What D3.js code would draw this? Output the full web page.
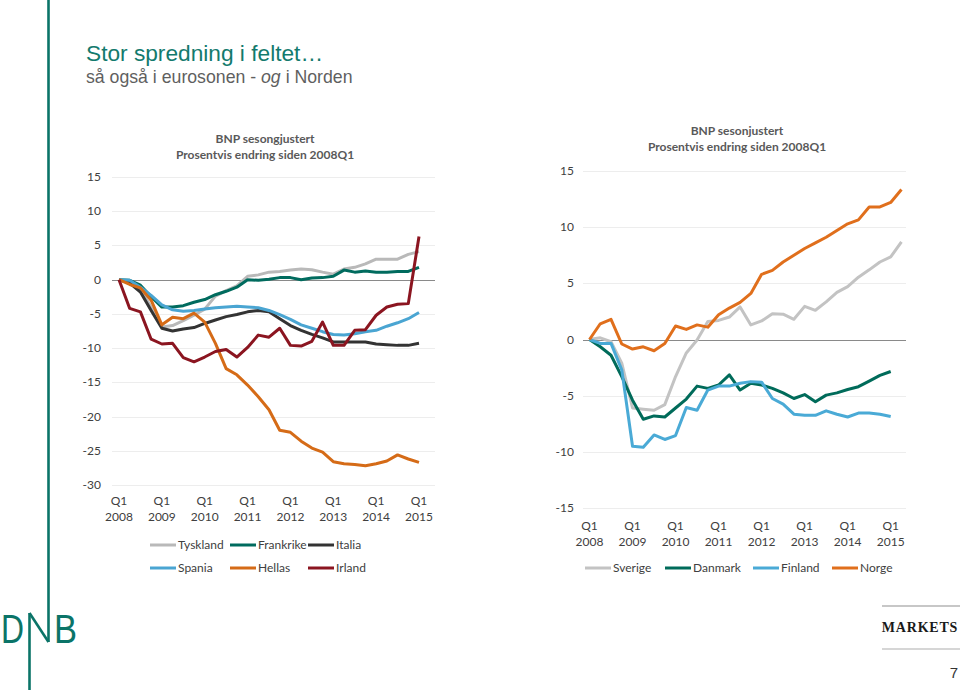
<!DOCTYPE html>
<html><head><meta charset="utf-8">
<script src="https://cdn.jsdelivr.net/npm/d3@7"></script>
<style>
html,body{margin:0;padding:0;background:#fff;}
svg{display:block;}
</style></head>
<body>
<svg id="c" width="960" height="690"></svg>
<script>
// ---------- DATA ----------
const xYears = ["2008","2009","2010","2011","2012","2013","2014","2015"];
const leftTicks = [15,10,5,0,-5,-10,-15,-20,-25,-30];
const rightTicks = [15,10,5,0,-5,-10,-15];

// Euro area (% change since 2008Q1), 2008Q1..2015Q1
const tyskland  = [0,-0.5,-1.4,-4.0,-6.9,-6.7,-6.0,-5.2,-4.3,-2.4,-1.6,-0.9,0.5,0.7,1.1,1.2,1.4,1.55,1.45,1.1,0.8,1.55,1.8,2.3,3.0,3.0,3.0,3.7,4.1];
const frankrike = [0,-0.1,-0.8,-2.5,-4.0,-4.0,-3.8,-3.3,-2.9,-2.2,-1.7,-1.1,0.0,-0.1,0.05,0.3,0.3,0.0,0.25,0.3,0.5,1.4,1.1,1.25,1.1,1.1,1.2,1.2,1.8];
const italia    = [0,-0.5,-1.8,-4.5,-7.1,-7.5,-7.2,-7.0,-6.4,-5.9,-5.4,-5.1,-4.7,-4.5,-4.7,-5.7,-6.7,-7.4,-8.0,-8.5,-9.1,-9.1,-9.1,-9.1,-9.4,-9.5,-9.6,-9.6,-9.3];
const spania    = [0,-0.1,-1.1,-2.3,-3.7,-4.4,-4.6,-4.5,-4.3,-4.1,-4.0,-3.9,-4.0,-4.1,-4.5,-5.1,-5.8,-6.6,-7.1,-7.6,-8.0,-8.1,-7.9,-7.6,-7.4,-6.8,-6.3,-5.7,-4.8];
const hellas    = [0,-0.7,-1.2,-3.0,-6.6,-5.5,-5.7,-4.9,-6.2,-9.3,-13.0,-13.9,-15.4,-17.1,-19.0,-22.0,-22.3,-23.6,-24.6,-25.2,-26.6,-26.9,-27.0,-27.2,-26.9,-26.5,-25.6,-26.2,-26.7];
const irland    = [0,-4.2,-4.7,-8.7,-9.4,-9.3,-11.4,-12.0,-11.3,-10.5,-10.2,-11.3,-9.9,-8.1,-8.4,-7.1,-9.6,-9.7,-9.0,-6.2,-9.6,-9.6,-7.4,-7.3,-5.2,-4.0,-3.6,-3.5,6.3];

// Nordic countries (% change since 2008Q1)
const sverige = [0,0.15,-0.2,-2.1,-6.1,-6.2,-6.3,-5.8,-3.3,-1.2,-0.05,1.6,1.7,2.0,2.9,1.3,1.65,2.3,2.25,1.8,2.95,2.6,3.35,4.2,4.7,5.55,6.2,6.9,7.35,8.7];
const danmark = [0,-0.65,-1.4,-3.3,-5.4,-7.1,-6.8,-6.9,-6.1,-5.3,-4.15,-4.35,-4.05,-3.15,-4.5,-3.9,-4.05,-4.35,-4.75,-5.25,-4.9,-5.55,-4.95,-4.75,-4.45,-4.2,-3.7,-3.2,-2.85];
const finland = [0,-0.35,-0.35,-2.7,-9.5,-9.6,-8.5,-8.9,-8.55,-6.05,-6.3,-4.5,-4.15,-4.15,-3.9,-3.75,-3.8,-5.25,-5.75,-6.65,-6.75,-6.75,-6.35,-6.65,-6.9,-6.55,-6.55,-6.65,-6.85];
const norge   = [0,1.4,1.8,-0.4,-0.85,-0.65,-1.0,-0.35,1.2,0.9,1.3,1.1,2.2,2.8,3.3,4.1,5.8,6.15,6.9,7.5,8.1,8.6,9.1,9.7,10.3,10.65,11.8,11.8,12.2,13.35];

const leftNames  = ["Tyskland","Frankrike","Italia","Spania","Hellas","Irland"];
const rightNames = ["Sverige","Danmark","Finland","Norge"];

// ---------- DRAW ----------
const svg = d3.select("#c");
const TEAL = "#0b7468";
const sansChart = "Lato, 'Open Sans', sans-serif";

// vertical brand line + DNB logo
svg.append("line").attr("x1",48.5).attr("x2",48.5).attr("y1",0).attr("y2",642).attr("stroke",TEAL).attr("stroke-width",2.6);
svg.append("line").attr("x1",29.5).attr("x2",29.5).attr("y1",613).attr("y2",690).attr("stroke",TEAL).attr("stroke-width",2.6);
svg.append("line").attr("x1",29.5).attr("x2",48.5).attr("y1",613).attr("y2",642).attr("stroke",TEAL).attr("stroke-width",2.6);
svg.append("text").attr("x",1).attr("y",643).attr("font-family","'Liberation Sans', Arial, sans-serif").attr("font-size",40).attr("fill",TEAL).attr("textLength",23).attr("lengthAdjust","spacingAndGlyphs").text("D");
svg.append("text").attr("x",54).attr("y",643).attr("font-family","'Liberation Sans', Arial, sans-serif").attr("font-size",40).attr("fill",TEAL).attr("textLength",23).attr("lengthAdjust","spacingAndGlyphs").text("B");

// Title
svg.append("text").attr("x",86).attr("y",61).attr("font-family","'Liberation Sans', Arial, sans-serif")
  .attr("font-size",22.7).attr("fill","#137a6d").text("Stor spredning i feltet…");
const sub = svg.append("text").attr("x",86).attr("y",83).attr("font-family","'Liberation Sans', Arial, sans-serif")
  .attr("font-size",17.7).attr("fill","#5f5f5f");
sub.append("tspan").text("så også i eurosonen - ");
sub.append("tspan").attr("font-style","italic").text("og");
sub.append("tspan").text(" i Norden");

// MARKETS block
svg.append("line").attr("x1",882).attr("x2",960).attr("y1",606).attr("y2",606).attr("stroke","#b5b5b5").attr("stroke-width",1.5);
svg.append("line").attr("x1",882).attr("x2",960).attr("y1",649).attr("y2",649).attr("stroke","#c8c8c8").attr("stroke-width",1.5);
svg.append("text").attr("x",920).attr("y",632).attr("text-anchor","middle").attr("font-family","'Liberation Serif', 'DejaVu Serif', serif")
  .attr("font-size",14).attr("font-weight","bold").attr("letter-spacing",0.8).attr("fill","#1a1a1a").text("MARKETS");
svg.append("text").attr("x",958).attr("y",678).attr("text-anchor","end").attr("font-family","'Liberation Sans', Arial, sans-serif")
  .attr("font-size",15).attr("fill","#333").text("7");

function chart(cfg){
  const g = svg.append("g");
  const x = d3.scaleLinear().domain([0,28]).range(cfg.xr);
  const y = d3.scaleLinear().domain(cfg.yd).range(cfg.yr);
  // titles
  cfg.titles.forEach((t,i)=>{
    g.append("text").attr("x",cfg.tx).attr("y",cfg.ty+i*16).attr("text-anchor","middle")
      .attr("font-family",sansChart).attr("font-weight","bold").attr("font-size",12).attr("fill","#595959").text(t);
  });
  // grid
  g.selectAll("line.grid").data(cfg.ticks).enter().append("line")
    .attr("x1",cfg.gx[0]).attr("x2",cfg.gx[1])
    .attr("y1",d=>Math.round(y(d))+0.5).attr("y2",d=>Math.round(y(d))+0.5)
    .attr("stroke",d=>d===0?"#8a8a8a":"#ededed").attr("stroke-width",1);
  // y labels
  g.selectAll("text.yl").data(cfg.ticks).enter().append("text")
    .attr("x",cfg.lx).attr("y",d=>y(d)+4).attr("text-anchor","end")
    .attr("font-family",sansChart).attr("font-size",12).attr("fill","#404040").text(d=>d);
  // x labels
  xYears.forEach((yr,i)=>{
    const xx = x(i*4);
    g.append("text").attr("x",xx).attr("y",cfg.xly).attr("text-anchor","middle")
      .attr("font-family",sansChart).attr("font-size",12).attr("fill","#404040").text("Q1");
    g.append("text").attr("x",xx).attr("y",cfg.xly+16).attr("text-anchor","middle")
      .attr("font-family",sansChart).attr("font-size",12).attr("fill","#404040").text(yr);
  });
  // lines
  const line = d3.line().x((d,i)=>x(i)).y(d=>y(d));
  cfg.series.forEach(s=>{
    g.append("path").attr("d",line(s.values)).attr("fill","none").attr("stroke",s.color)
      .attr("stroke-width",3).attr("stroke-linejoin","round");
  });
  // legend
  cfg.series.forEach(s=>{
    g.append("line").attr("x1",s.lg[0]).attr("x2",s.lg[0]+26).attr("y1",s.lg[1]).attr("y2",s.lg[1])
      .attr("stroke",s.color).attr("stroke-width",3);
    g.append("text").attr("x",s.lg[0]+28).attr("y",s.lg[1]+4).attr("font-family",sansChart)
      .attr("font-size",12).attr("fill","#404040").text(s.name);
  });
}

chart({
  xr:[119,419], yd:[-30,15], yr:[485,177], gx:[112,435], lx:101, xly:505,
  ticks:leftTicks, tx:265, ty:143,
  titles:["BNP sesongjustert","Prosentvis endring siden 2008Q1"],
  series:[
    {name:leftNames[0], values:tyskland,  color:"#b9b9b9", lg:[150,545]},
    {name:leftNames[1], values:frankrike, color:"#006b5e", lg:[230,545]},
    {name:leftNames[2], values:italia,    color:"#333333", lg:[308,545]},
    {name:leftNames[3], values:spania,    color:"#4aa5d2", lg:[150,568]},
    {name:leftNames[4], values:hellas,    color:"#d56b17", lg:[230,568]},
    {name:leftNames[5], values:irland,    color:"#8b1520", lg:[308,568]}
  ]
});

chart({
  xr:[589.5,890.7], yd:[-15,15], yr:[508,171], gx:[583,906], lx:574, xly:530,
  ticks:rightTicks, tx:737, ty:135,
  titles:["BNP sesonjustert","Prosentvis endring siden 2008Q1"],
  series:[
    {name:rightNames[0], values:sverige, color:"#c3c3c3", lg:[585,568]},
    {name:rightNames[1], values:danmark, color:"#006b5a", lg:[665,568]},
    {name:rightNames[2], values:finland, color:"#4aaad6", lg:[753,568]},
    {name:rightNames[3], values:norge,   color:"#e06f1c", lg:[832,568]}
  ]
});
</script>
</body></html>
